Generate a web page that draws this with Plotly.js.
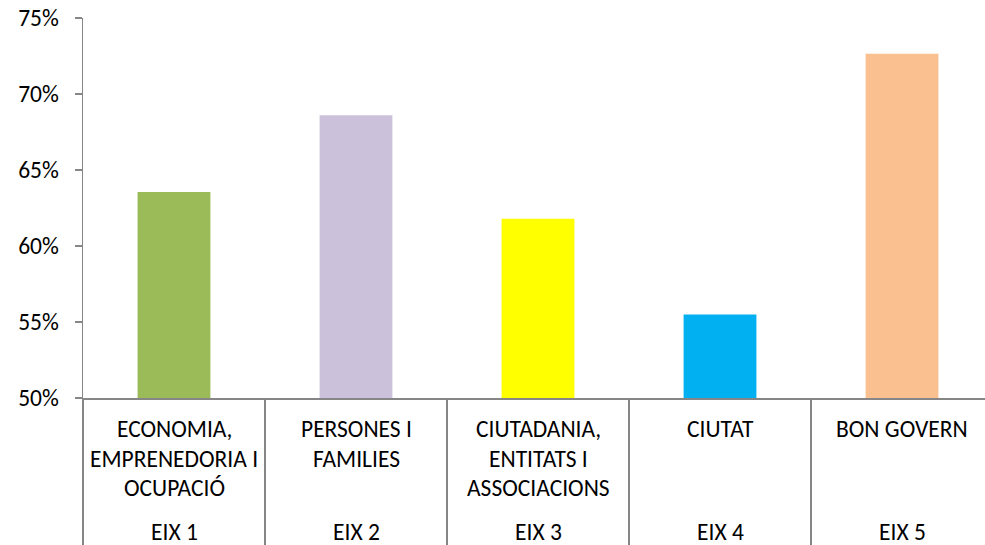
<!DOCTYPE html>
<html>
<head>
<meta charset="utf-8">
<script src="https://cdn.plot.ly/plotly-3.0.1.min.js"></script>
<style>html,body{margin:0;padding:0;overflow:hidden;background:#fff;}</style>
</head>
<body>
<div id="chart" style="width:985px;height:545px;"></div>
<script>
const categories = ["EIX 1", "EIX 2", "EIX 3", "EIX 4", "EIX 5"];
const topLabels = [
  ["ECONOMIA,", "EMPRENEDORIA I", "OCUPACIÓ"],
  ["PERSONES I", "FAMILIES"],
  ["CIUTADANIA,", "ENTITATS I", "ASSOCIACIONS"],
  ["CIUTAT"],
  ["BON GOVERN"]
];
const values = [0.6355, 0.686, 0.618, 0.555, 0.7265];
const colors = ["#9BBB59", "#CCC1DA", "#FFFF00", "#00B0F0", "#FAC090"];

const FONT = "Carlito, Lato, 'Open Sans', sans-serif";
const FS = 23.5;
const annotations = [];
topLabels.forEach((lines, i) => {
  lines.forEach((ln, j) => {
    annotations.push({
      x: categories[i], xref: "x", y: 0, yref: "paper",
      yanchor: "middle", showarrow: false, text: ln,
      yshift: -31 - 29.5 * j,
      font: {family: FONT, size: FS, color: "#000"}
    });
  });
  annotations.push({
    x: categories[i], xref: "x", y: 0, yref: "paper",
    yanchor: "middle", showarrow: false, text: categories[i],
    yshift: -134,
    font: {family: FONT, size: FS, color: "#000"}
  });
});

const data = [{
  type: "bar",
  x: categories,
  y: values,
  base: 0,
  marker: {color: colors, line: {width: 0}},
  width: 0.40,
  hoverinfo: "none"
}];

const layout = {
  width: 985, height: 545,
  margin: {l: 83, r: 0, t: 18, b: 147, pad: 0},
  paper_bgcolor: "#fff", plot_bgcolor: "#fff",
  showlegend: false,
  xaxis: {
    type: "category",
    range: [-0.5, 4.456],
    showticklabels: false,
    tickson: "boundaries",
    ticks: "outside", ticklen: 147, tickwidth: 1.5, tickcolor: "#868686",
    showline: true, linecolor: "#868686", linewidth: 1.5,
    showgrid: false, zeroline: false, fixedrange: true
  },
  yaxis: {
    range: [0.5, 0.75],
    dtick: 0.05, tick0: 0.5,
    tickformat: ".0%",
    ticks: "outside", ticklen: 7, tickwidth: 1.5, tickcolor: "#868686",
    showline: true, linecolor: "#868686", linewidth: 1.5,
    showgrid: false, zeroline: false,
    tickfont: {family: FONT, size: FS, color: "#000"},
    ticklabelstandoff: 11
  },
  annotations: annotations
};

Plotly.newPlot("chart", data, layout, {displayModeBar: false, staticPlot: true});
</script>
</body>
</html>
